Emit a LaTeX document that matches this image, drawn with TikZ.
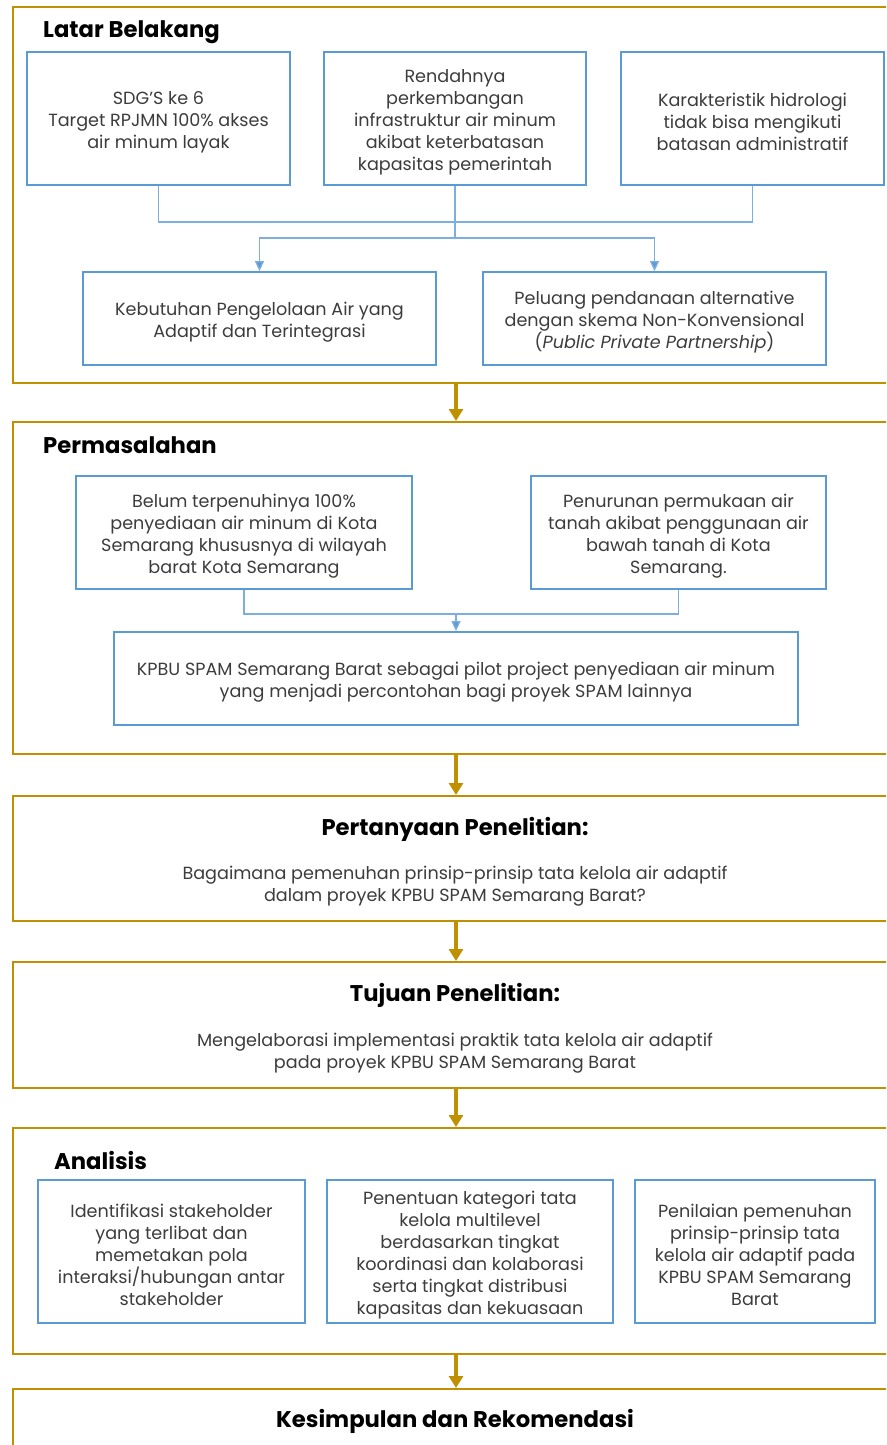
\documentclass[tikz,border=0pt]{standalone}
\usepackage{fontspec}
\setmainfont{Poppins}
\usetikzlibrary{arrows.meta}
\definecolor{gold}{RGB}{191,144,0}
\definecolor{boxblue}{RGB}{91,155,213}
\definecolor{linkblue}{RGB}{125,175,222}
\definecolor{bodytext}{RGB}{60,60,60}

\begin{document}
\begin{tikzpicture}[x=1pt,y=-1pt,
  frame/.style={draw=gold,line width=2.4pt,anchor=north west,inner sep=0pt,minimum width=900pt},
  infobox/.style={draw=boxblue,line width=1.8pt,inner sep=0pt},
  boxtext/.style={align=center,text=bodytext,inner sep=0pt,yshift=-3.5pt,
    font=\fontsize{17.6}{22}\selectfont},
  heading/.style={font=\fontsize{22.7}{26}\selectfont\bfseries,text=black,inner sep=0pt},
  bodyline/.style={font=\fontsize{17.6}{22}\selectfont,text=bodytext,align=center,inner sep=0pt},
  goldarrow/.style={draw=gold,line width=4pt,-{Triangle[width=14pt,length=12pt]}},
  link/.style={draw=linkblue,line width=1.3pt},
  linkarrow/.style={link,-{Triangle[width=9pt,length=10pt,fill=boxblue]}}]

\path[use as bounding box] (0,0) rectangle (886,1445);
\clip (0,0) rectangle (886,1445);

% outer section frames
\node[frame,minimum height=376pt] (f1) at (12,6) {};
\node[frame,minimum height=332pt] (f2) at (12,421) {};
\node[frame,minimum height=125pt] (f3) at (12,795) {};
\node[frame,minimum height=126pt] (f4) at (12,961) {};
\node[frame,minimum height=226pt] (f5) at (12,1127) {};
\node[frame,minimum height=120pt] (f6) at (12,1388) {};

% arrows between sections
\foreach \a/\b in {f1/f2,f2/f3,f3/f4,f4/f5,f5/f6}
  \draw[goldarrow] ([xshift=444pt]\a.south west) -- ([xshift=444pt]\b.north west);

% --- Latar Belakang
\node[heading,anchor=west] (h1) at (43,32) {Latar Belakang};
\node[infobox,minimum width=263pt,minimum height=133pt,
  label={[boxtext]center:{SDG'S ke 6\\Target RPJMN 100\% akses\\air minum layak}}] (a) at (158.5,118.5) {};
\node[infobox,minimum width=262pt,minimum height=133pt,
  label={[boxtext]center:{Rendahnya\\perkembangan\\infrastruktur air minum\\akibat keterbatasan\\kapasitas pemerintah}}] (b) at (455,118.5) {};
\node[infobox,minimum width=263pt,minimum height=133pt,
  label={[boxtext]center:{Karakteristik hidrologi\\tidak bisa mengikuti\\batasan administratif}}] (c) at (752.5,118.5) {};
\node[infobox,minimum width=353pt,minimum height=93pt,
  label={[boxtext]center:{Kebutuhan Pengelolaan Air yang\\Adaptif dan Terintegrasi}}] (d) at (259.5,318.5) {};
\node[infobox,minimum width=343pt,minimum height=93pt,
  label={[boxtext]center:{Peluang pendanaan alternative\\dengan skema Non-Konvensional\\(\textit{Public Private Partnership})}}] (e) at (654.5,318.5) {};

\draw[link] (a.south) -- ++(0,36) -| (c.south);
\draw[link] (b.south) -- ++(0,52) coordinate (j1);
\draw[linkarrow] (j1) -| (d.north);
\draw[linkarrow] (j1) -| (e.north);

% --- Permasalahan
\node[heading,anchor=west] (h2) at (43,445) {Permasalahan};
\node[infobox,minimum width=336pt,minimum height=113pt,
  label={[boxtext]center:{Belum terpenuhinya 100\%\\penyediaan air minum di Kota\\Semarang khususnya di wilayah\\barat Kota Semarang}}] (f) at (244,532.5) {};
\node[infobox,minimum width=295pt,minimum height=113pt,
  label={[boxtext]center:{Penurunan permukaan air\\tanah akibat penggunaan air\\bawah tanah di Kota\\Semarang.}}] (g) at (678.5,532.5) {};
\node[infobox,minimum width=684pt,minimum height=93pt,
  label={[boxtext]center:{KPBU SPAM Semarang Barat sebagai pilot project penyediaan air minum\\yang menjadi percontohan bagi proyek SPAM lainnya}}] (h) at (456,678.5) {};

\draw[link] (f.south) -- ++(0,24) coordinate (j2) -| (g.south);
\draw[linkarrow] (j2 -| h.north) -- (h.north);

% --- Pertanyaan Penelitian
\node[heading] (h3) at (455,829) {Pertanyaan Penelitian:};
\node[bodyline] (t3) at (455,886)
  {Bagaimana pemenuhan prinsip-prinsip tata kelola air adaptif\\dalam proyek KPBU SPAM Semarang Barat?};

% --- Tujuan Penelitian
\node[heading] (h4) at (455,995) {Tujuan Penelitian:};
\node[bodyline] (t4) at (455,1053)
  {Mengelaborasi implementasi praktik tata kelola air adaptif\\pada proyek KPBU SPAM Semarang Barat};

% --- Analisis
\node[heading,anchor=west] (h5) at (54,1160) {Analisis};
\node[infobox,minimum width=267pt,minimum height=143pt,
  label={[boxtext]center:{Identifikasi stakeholder\\yang terlibat dan\\memetakan pola\\interaksi/hubungan antar\\stakeholder}}] (i) at (171.5,1251.5) {};
\node[infobox,minimum width=286pt,minimum height=143pt,
  label={[boxtext]center:{Penentuan kategori tata\\kelola multilevel\\berdasarkan tingkat\\koordinasi dan kolaborasi\\serta tingkat distribusi\\kapasitas dan kekuasaan}}] (k) at (470,1251.5) {};
\node[infobox,minimum width=240pt,minimum height=143pt,
  label={[boxtext]center:{Penilaian pemenuhan\\prinsip-prinsip tata\\kelola air adaptif pada\\KPBU SPAM Semarang\\Barat}}] (l) at (755,1251.5) {};

% --- Kesimpulan
\node[heading] (h6) at (455,1421) {Kesimpulan dan Rekomendasi};

\end{tikzpicture}
\end{document}
